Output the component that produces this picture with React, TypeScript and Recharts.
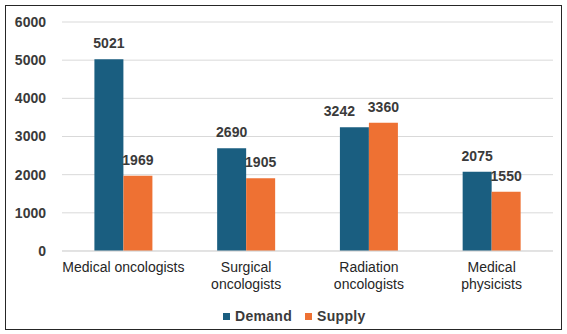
import React from "react";
import { BarChart, Bar, XAxis, YAxis, CartesianGrid, LabelList, Legend } from "recharts";

const categories = ["Medical oncologists", "Surgical oncologists", "Radiation oncologists", "Medical physicists"];
const categoryLines = [["Medical oncologists"], ["Surgical", "oncologists"], ["Radiation", "oncologists"], ["Medical", "physicists"]];
const demand = [5021, 2690, 3242, 2075];
const supply = [1969, 1905, 3360, 1550];
const yTicks = [0, 1000, 2000, 3000, 4000, 5000, 6000];
const seriesNames = ["Demand", "Supply"];
const seriesColors = ["#1a5e80", "#ee7133"];

const data = categories.map((c, i) => ({ category: c, Demand: demand[i], Supply: supply[i] }));

const FONT = '"Liberation Sans", Arial, sans-serif';
const LABEL_COLOR = "#3a3a3a";

const CategoryTick = (props: any) => {
  const { x, y, payload } = props;
  const idx = categories.indexOf(payload.value);
  const lines = idx >= 0 ? categoryLines[idx] : [String(payload.value)];
  return (
    <text x={x} y={y} textAnchor="middle" fontFamily={FONT} fontSize={14} fill="#262626">
      {lines.map((l, i) => (
        <tspan key={i} x={x} dy={i === 0 ? 13 : 17}>
          {l}
        </tspan>
      ))}
    </text>
  );
};

// Value label; the Demand label moves left when it would collide with the Supply label next to it
const makeValueLabel = (seriesIndex: number) => (props: any) => {
  const { x, y, width, value, index } = props;
  let cx = x + width / 2;
  if (seriesIndex === 0) {
    const other = supply[index];
    const ratio = Math.abs(other - value) / 6000;
    if (ratio < 0.05) cx -= 15;
  }
  return (
    <text x={cx} y={y - 11} textAnchor="middle" fontFamily={FONT} fontSize={14} fontWeight={700} fill={LABEL_COLOR}>
      {value}
    </text>
  );
};

const LegendContent = () => (
  <div style={{ display: "flex", alignItems: "center", fontFamily: FONT, fontSize: 14, fontWeight: 700, color: LABEL_COLOR, letterSpacing: 0.3 }}>
    {seriesNames.map((n, i) => (
      <div key={n} style={{ display: "flex", alignItems: "center", marginRight: i === 0 ? 13 : 0 }}>
        <span style={{ display: "inline-block", width: 7, height: 7, background: seriesColors[i], marginRight: 5 }} />
        <span>{n}</span>
      </div>
    ))}
  </div>
);

export default function App() {
  return (
    <div
      style={{
        position: "absolute",
        left: 5,
        top: 5,
        width: 557,
        height: 325,
        border: "1px solid #262626",
        boxSizing: "border-box",
        background: "#fff",
      }}
    >
      <BarChart width={555} height={323} data={data} margin={{ top: 16, right: 8, bottom: 28, left: 0 }} barGap={0} barCategoryGap="26.4%">
        <CartesianGrid vertical={false} stroke="#d9d9d9" />
        <XAxis dataKey="category" height={50} tickLine={false} axisLine={{ stroke: "#d9d9d9" }} tick={<CategoryTick />} interval={0} />
        <YAxis
          width={56}
          domain={[0, 6000]}
          ticks={yTicks}
          tickLine={false}
          axisLine={false}
          tickMargin={10}
          tick={{ fontFamily: FONT, fontSize: 14, fontWeight: 700, fill: LABEL_COLOR }}
        />
        <Legend layout="horizontal" verticalAlign="middle" align="center" content={<LegendContent />} wrapperStyle={{ left: 217, top: 302, width: "auto", height: "auto" }} />
        {seriesNames.map((n, i) => (
          <Bar key={n} dataKey={n} fill={seriesColors[i]} isAnimationActive={false}>
            <LabelList dataKey={n} content={makeValueLabel(i)} />
          </Bar>
        ))}
      </BarChart>
    </div>
  );
}
